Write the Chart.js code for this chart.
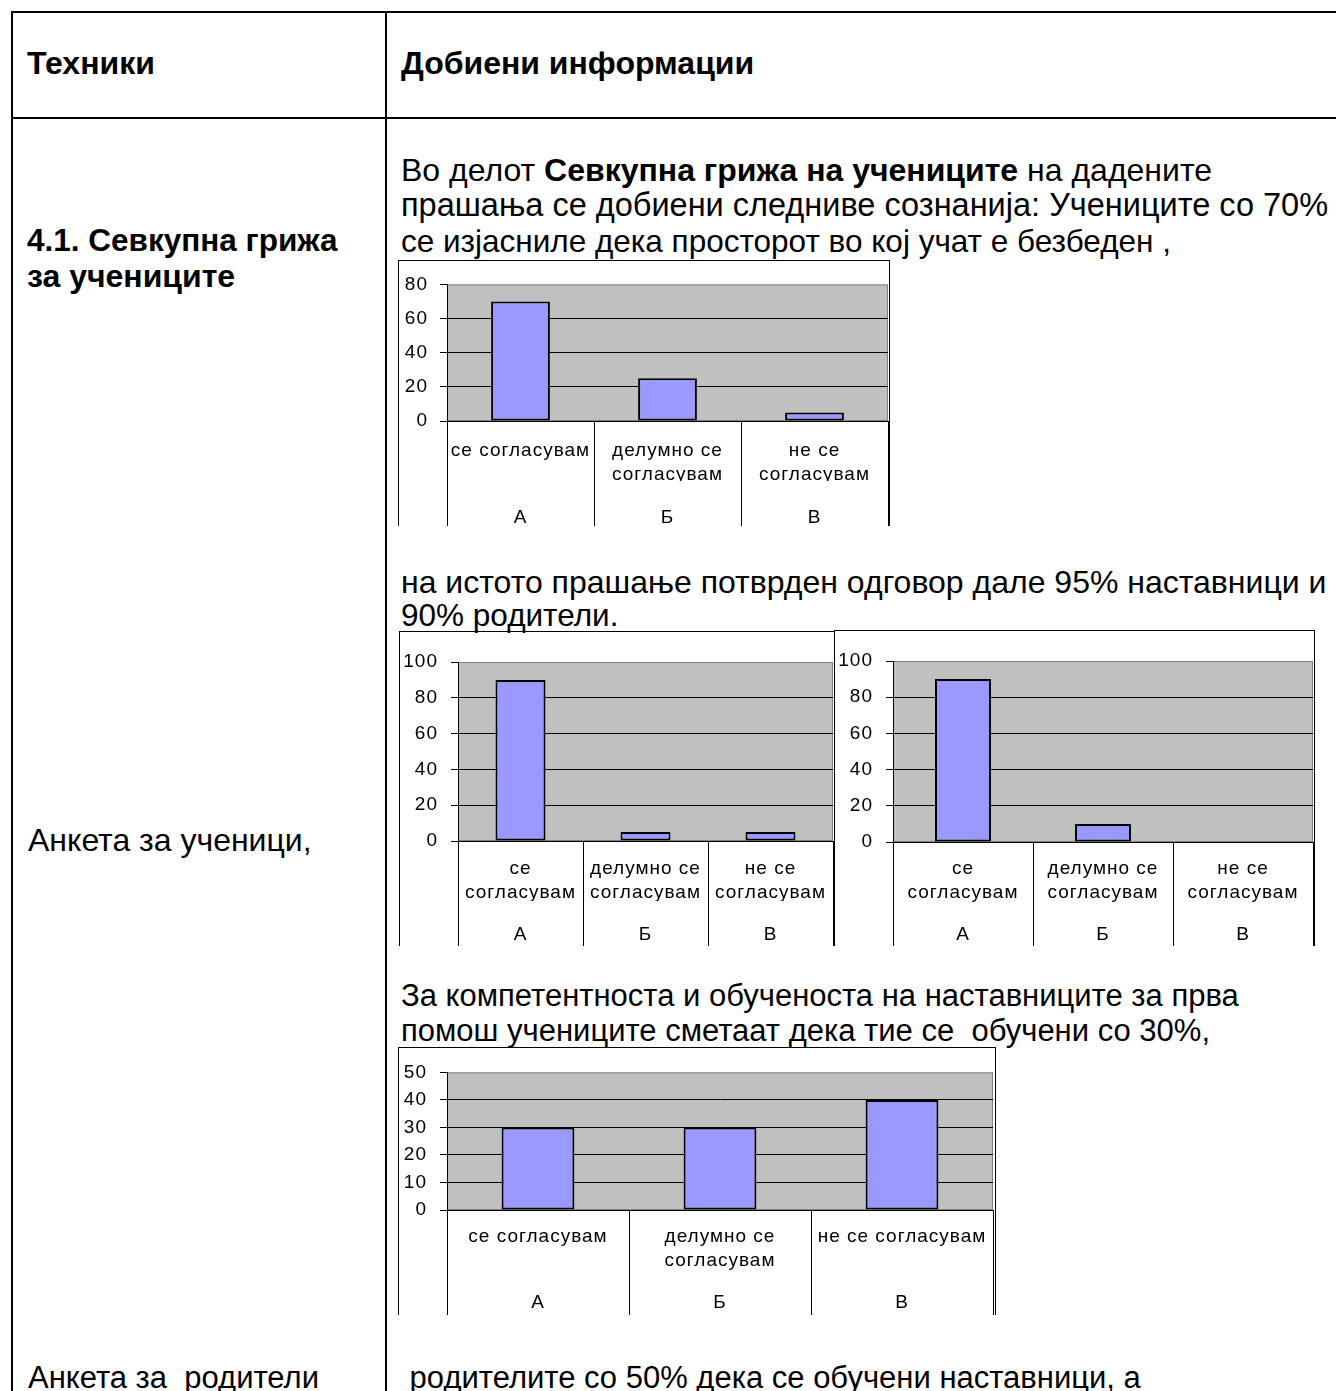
<!DOCTYPE html>
<html lang="mk">
<head>
<meta charset="utf-8">
<title>Севкупна грижа за учениците</title>
<script src="https://cdn.jsdelivr.net/npm/chart.js@4.4.1/dist/chart.umd.min.js"></script>
<style>
  html, body { margin: 0; padding: 0; background: #fff; }
  body {
    width: 1336px; height: 1391px; overflow: hidden; position: relative;
    font-family: "Liberation Sans", Arial, sans-serif; color: #000;
  }
  .rule { position: absolute; background: #000; }
  .txt { position: absolute; font-size: 32px; line-height: 36px; white-space: pre; }
  .txt.sm { font-size: 31px; }
  .txt.md { font-size: 31.5px; }
  .txt.lg { font-size: 32.5px; }
  .b { font-weight: bold; }
  .frame { position: absolute; border: 1px solid #000; border-bottom: none; }
  .frame canvas { display: block; }
</style>
</head>
<body>

<!-- table rules -->
<div class="rule" style="left:11px; top:11px; width:1330px; height:2px;"></div>
<div class="rule" style="left:11px; top:11px; width:2px; height:1390px;"></div>
<div class="rule" style="left:385px; top:11px; width:2px; height:1390px;"></div>
<div class="rule" style="left:11px; top:117px; width:1330px; height:2px;"></div>

<!-- left column -->
<div class="txt b" style="left:27px; top:45px;">Техники</div>
<div class="txt b md" style="left:27px; top:222px;">4.1. Севкупна грижа</div>
<div class="txt b" style="left:27px; top:258px;">за учениците</div>
<div class="txt" style="left:28px; top:822px;">Анкета за ученици,</div>
<div class="txt sm" style="left:28px; top:1360px;">Анкета за  родители</div>

<!-- right column -->
<div class="txt b" style="left:401px; top:45px;">Добиени информации</div>
<div class="txt" style="left:401px; top:152px;">Во делот <b>Севкупна грижа на учениците</b> на дадените</div>
<div class="txt lg" style="left:401px; top:187px;">прашања се добиени следниве сознанија: Учениците со 70%</div>
<div class="txt md" style="left:401px; top:223px;">се изјасниле дека просторот во кој учат е безбеден ,</div>
<div class="txt" style="left:401px; top:564px;">на истото прашање потврден одговор дале 95% наставници и</div>
<div class="txt md" style="left:401px; top:597px;">90% родители.</div>
<div class="txt sm" style="left:401px; top:978px;">За компетентноста и обученоста на наставниците за прва</div>
<div class="txt sm" style="left:401px; top:1013px;">помош учениците сметаат дека тие се  обучени со 30%,</div>
<div class="txt sm" style="left:401px; top:1360px;"> родителите со 50% дека се обучени наставници, а</div>

<!-- charts -->
<div class="frame" style="left:398px; top:260px;"><canvas id="chartSafeStudents" width="490" height="265"></canvas></div>
<div class="frame" style="left:399px; top:631px;"><canvas id="chartSafeTeachers" width="434" height="314"></canvas></div>
<div class="frame" style="left:834px; top:630px;"><canvas id="chartSafeParents" width="479" height="315"></canvas></div>
<div class="frame" style="left:398px; top:1047px;"><canvas id="chartFirstAid" width="596" height="267"></canvas></div>

<script>
// ── data ──
const answersWide   = [['се согласувам'], ['делумно се', 'согласувам'], ['не се', 'согласувам']];
const answersNarrow = [['се', 'согласувам'], ['делумно се', 'согласувам'], ['не се', 'согласувам']];
const answersFlat   = [['се согласувам'], ['делумно се', 'согласувам'], ['не се согласувам']];
const groups = ['А', 'Б', 'В'];

const safeStudents = [70, 25, 5];
const safeTeachers = [90, 5, 5];
const safeParents  = [90, 10, 0];
const firstAid     = [30, 30, 40];

const yMax  = [80, 100, 100, 50];
const yStep = [20, 20, 20, 10];

// ── excel-ish look ──
const TICK_LEN = 200;   // long x tick marks act as the category dividers
const FAMILY = "'Liberation Sans', Arial, sans-serif";
const labelFont = { family: FAMILY, size: 19, lineHeight: 1.3 };
const valueFont = { family: FAMILY, size: 19, lineHeight: 1.2 };

const plotBg = {
  id: 'plotBg',
  beforeDraw(chart) {
    const { ctx, chartArea: a } = chart;
    ctx.save();
    ctx.fillStyle = '#c0c0c0';
    ctx.fillRect(a.left, a.top, a.right - a.left, a.bottom - a.top);
    ctx.strokeStyle = '#808080';
    ctx.lineWidth = 1;
    ctx.strokeRect(a.left + 0.5, a.top + 0.5, a.right - a.left - 1, a.bottom - a.top - 1);
    ctx.restore();
    ctx.letterSpacing = '1px';
  }
};

function makeChart(canvasId, labels, values, max, step, g) {
  const ctx = document.getElementById(canvasId)?.getContext('2d');
  if (!ctx) return;
  new Chart(ctx, {
    type: 'bar',
    data: {
      labels,
      datasets: [{
        data: values,
        backgroundColor: '#9999ff',
        borderColor: '#000',
        borderWidth: 2,
        borderSkipped: false,
        barPercentage: 0.4,
        categoryPercentage: 1,
      }]
    },
    options: {
      responsive: false, animation: false, devicePixelRatio: 1,
      layout: { padding: { top: g.top, right: g.right, left: 0, bottom: 0 } },
      plugins: { legend: { display: false }, tooltip: { enabled: false } },
      scales: {
        y: {
          min: 0, max,
          ticks: { stepSize: step, autoSkip: false, color: '#000', font: valueFont, padding: g.yPad },
          grid: { color: c => c.tick && c.tick.value === max ? 'rgba(0,0,0,0)' : '#000', tickColor: '#000', tickLength: 7 },
          border: { color: '#000' },
          afterFit: s => { s.width = g.yw; }
        },
        x: {
          offset: true,
          grid: { offset: true, drawOnChartArea: false, color: '#000', tickLength: TICK_LEN },
          border: { color: '#000' },
          ticks: { color: '#000', font: labelFont, padding: g.lbl - TICK_LEN, maxRotation: 0, autoSkip: false },
          afterFit: s => { s.height = g.xh; }
        },
        grp: {
          type: 'category', labels: groups, position: 'bottom', offset: true, weight: 1,
          grid: { display: false },
          border: { display: false },
          ticks: { color: '#000', font: labelFont, padding: g.grp, maxRotation: 0 },
          afterFit: s => { s.height = g.gh; }
        }
      }
    },
    plugins: [plotBg]
  });
}

makeChart('chartSafeStudents', answersWide,   safeStudents, yMax[0], yStep[0], { yw: 48, yPad: 12, top: 21, right: 1, xh: 60, gh: 45, lbl: 17, grp: 16 });
makeChart('chartSafeTeachers', answersNarrow, safeTeachers, yMax[1], yStep[1], { yw: 58, yPad: 13, top: 30, right: 1, xh: 60, gh: 45, lbl: 15, grp: 13 });
makeChart('chartSafeParents',  answersNarrow, safeParents,  yMax[2], yStep[2], { yw: 58, yPad: 13, top: 30, right: 1, xh: 60, gh: 44, lbl: 14, grp: 12 });
makeChart('chartFirstAid',     answersFlat,   firstAid,     yMax[3], yStep[3], { yw: 48, yPad: 13, top: 24, right: 2, xh: 60, gh: 45, lbl: 14, grp: 12 });
</script>
</body>
</html>
